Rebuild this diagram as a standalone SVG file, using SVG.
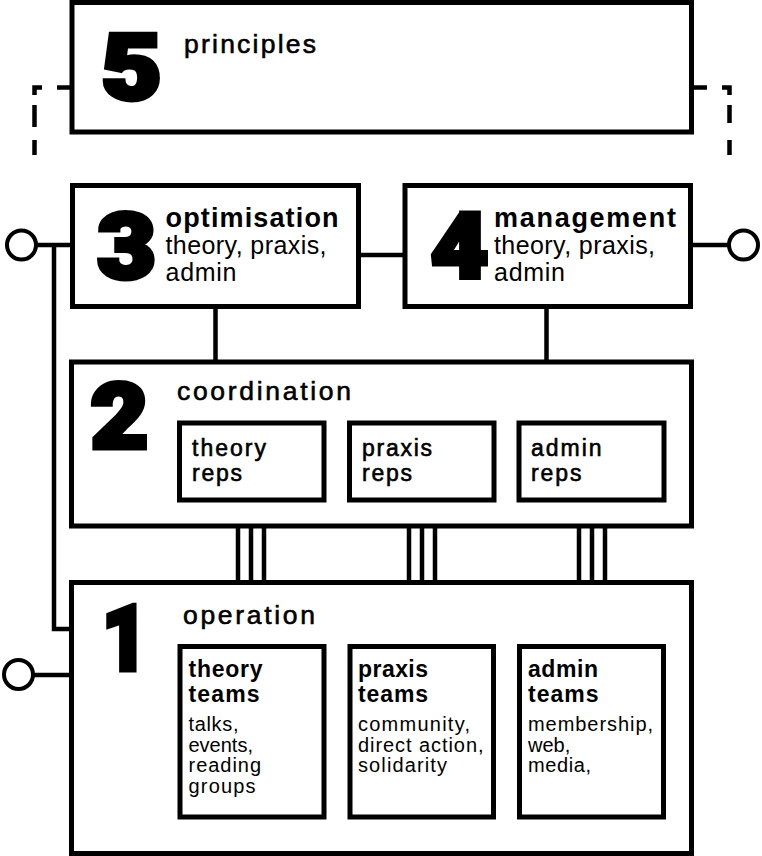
<svg xmlns="http://www.w3.org/2000/svg" width="762" height="856" viewBox="0 0 762 856">
  <style>
    .box { fill: #fff; stroke: #000; stroke-width: 5; }
    .sub { fill: #fff; stroke: #000; stroke-width: 5; }
    .wire { fill: none; stroke: #000; stroke-width: 4.5; }
    .dash { fill: none; stroke: #000; stroke-width: 4.5; stroke-linejoin: miter; }
    .term { fill: #fff; stroke: #000; stroke-width: 4; }
    text { font-family: "Liberation Sans", Arial, sans-serif; fill: #000; }
    .num { font-family: Roboto, "Liberation Sans", sans-serif; font-size: 90px; font-weight: 900; stroke: #000; stroke-width: 5; stroke-linejoin: miter; text-anchor: middle; }
    .med { font-size: 26.5px; stroke: #000; stroke-width: 0.6; }
    .head { font-size: 27px; font-weight: 700; }
    .line { font-size: 25px; }
    .rep { font-size: 23px; stroke: #000; stroke-width: 0.6; }
    .team { font-size: 23px; font-weight: 700; }
    .desc { font-size: 20px; }
  </style>

  <!-- connectors: drawn first so the boxes sit on top -->
  <g id="connectors">
    <!-- dashed brackets beside the principles box -->
    <path class="dash" d="M70 87.5 H57 M42 87.5 H34.5 V95 M34.5 105 V127 M34.5 140 V155"/>
    <path class="dash" d="M694 87.5 H707 M722 87.5 H729.5 V95 M729.5 105 V123 M729.5 140 V155"/>
    <!-- 3 to 4 -->
    <path class="wire" d="M358 255 H405"/>
    <!-- 3 and 4 down to 2 -->
    <path class="wire" d="M215.5 306 V362 M546.5 306 V362"/>
    <!-- left feed: terminal into 3, running down into 1 -->
    <path class="wire" d="M36 245 H72 M54 245 V629 H72"/>
    <circle class="term" cx="21.5" cy="245" r="14.5"/>
    <!-- right terminal from 4 -->
    <path class="wire" d="M690 245 H729"/>
    <circle class="term" cx="743.5" cy="245" r="14.5"/>
    <!-- lower terminal into 1 -->
    <path class="wire" d="M33 675 H72"/>
    <circle class="term" cx="18.5" cy="674.5" r="14.5"/>
    <!-- triple links between 2 and 1 -->
    <path class="wire" d="M238 526 V582 M251 526 V582 M264 526 V582"/>
    <path class="wire" d="M409 526 V582 M422 526 V582 M435 526 V582"/>
    <path class="wire" d="M579 526 V582 M592 526 V582 M605 526 V582"/>
  </g>

  <g id="node-5">
    <rect class="box" x="72" y="2.5" width="619.5" height="129.5"/>
    <text class="num" transform="translate(131.5 98.5) scale(1.15 1)">5</text>
    <text class="med" x="184" y="53" textLength="132" lengthAdjust="spacing">principles</text>
  </g>

  <g id="node-3">
    <rect class="box" x="72.5" y="185.5" width="286" height="121"/>
    <text class="num" transform="translate(126.7 277.5) scale(1.12 1)">3</text>
    <text class="head" x="165.5" y="227" textLength="173" lengthAdjust="spacing">optimisation</text>
    <text class="line" x="165.5" y="254" textLength="161" lengthAdjust="spacing">theory, praxis,</text>
    <text class="line" x="165.5" y="281" textLength="71" lengthAdjust="spacing">admin</text>
  </g>

  <g id="node-4">
    <rect class="box" x="405" y="185.5" width="285.5" height="121"/>
    <text class="num" transform="translate(459.4 277.5) scale(1.1 1)">4</text>
    <text class="head" x="494" y="227" textLength="182" lengthAdjust="spacing">management</text>
    <text class="line" x="494" y="254" textLength="161" lengthAdjust="spacing">theory, praxis,</text>
    <text class="line" x="494" y="281" textLength="71" lengthAdjust="spacing">admin</text>
  </g>

  <g id="node-2">
    <rect class="box" x="71.5" y="362" width="620" height="164"/>
    <text class="num" transform="translate(119.5 447.5) scale(1.1 1)">2</text>
    <text class="med" x="177" y="400" textLength="174" lengthAdjust="spacing">coordination</text>
    <g id="node-2-theory">
      <rect class="sub" x="179.5" y="423" width="144.5" height="77"/>
      <text class="rep" x="192" y="456" textLength="74" lengthAdjust="spacing">theory</text>
      <text class="rep" x="192" y="481" textLength="50" lengthAdjust="spacing">reps</text>
    </g>
    <g id="node-2-praxis">
      <rect class="sub" x="349.5" y="423" width="144.5" height="77"/>
      <text class="rep" x="362" y="456" textLength="70" lengthAdjust="spacing">praxis</text>
      <text class="rep" x="362" y="481" textLength="50" lengthAdjust="spacing">reps</text>
    </g>
    <g id="node-2-admin">
      <rect class="sub" x="519" y="423" width="145" height="77"/>
      <text class="rep" x="531" y="456" textLength="70.5" lengthAdjust="spacing">admin</text>
      <text class="rep" x="531" y="481" textLength="50.5" lengthAdjust="spacing">reps</text>
    </g>
  </g>

  <g id="node-1">
    <rect class="box" x="71.5" y="582.5" width="620" height="271"/>
    <text class="num" transform="translate(125 670) scale(0.88 1)">1</text>
    <text class="med" x="183" y="624" textLength="132" lengthAdjust="spacing">operation</text>
    <g id="node-1-theory">
      <rect class="sub" x="180" y="646.5" width="144" height="170.5"/>
      <text class="team" x="188.5" y="677" textLength="74" lengthAdjust="spacing">theory</text>
      <text class="team" x="188.5" y="702" textLength="71" lengthAdjust="spacing">teams</text>
      <text class="desc" x="188.5" y="731" textLength="50" lengthAdjust="spacing">talks,</text>
      <text class="desc" x="188.5" y="751.5">events,</text>
      <text class="desc" x="188.5" y="772" textLength="72.5" lengthAdjust="spacing">reading</text>
      <text class="desc" x="188.5" y="792.5" textLength="67" lengthAdjust="spacing">groups</text>
    </g>
    <g id="node-1-praxis">
      <rect class="sub" x="350" y="646.5" width="143.5" height="170.5"/>
      <text class="team" x="358" y="677" textLength="70" lengthAdjust="spacing">praxis</text>
      <text class="team" x="358" y="702" textLength="70" lengthAdjust="spacing">teams</text>
      <text class="desc" x="358" y="731" textLength="112" lengthAdjust="spacing">community,</text>
      <text class="desc" x="358" y="751.5" textLength="125.5" lengthAdjust="spacing">direct action,</text>
      <text class="desc" x="358" y="772" textLength="89" lengthAdjust="spacing">solidarity</text>
    </g>
    <g id="node-1-admin">
      <rect class="sub" x="519.5" y="646.5" width="144" height="170.5"/>
      <text class="team" x="528" y="677" textLength="70" lengthAdjust="spacing">admin</text>
      <text class="team" x="528" y="702" textLength="70.5" lengthAdjust="spacing">teams</text>
      <text class="desc" x="528" y="731" textLength="125" lengthAdjust="spacing">membership,</text>
      <text class="desc" x="528" y="751.5">web,</text>
      <text class="desc" x="528" y="772" textLength="63" lengthAdjust="spacing">media,</text>
    </g>
  </g>
</svg>
